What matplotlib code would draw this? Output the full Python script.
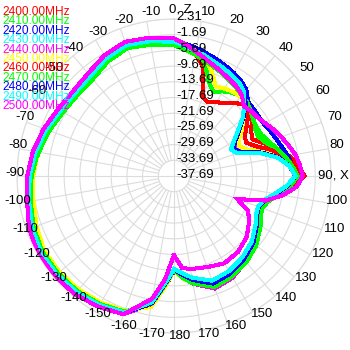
import numpy as np
import matplotlib
matplotlib.use("Agg")
import matplotlib.pyplot as plt

# angles in degrees (0 = Z at top, 90 = X at right, clockwise)
angles = [-180, -175, -170, -160, -150, -140, -130, -120, -110, -100, -90,
          -80, -70, -60, -50, -40, -30, -20, -10,
          0, 5, 10, 15, 20, 25, 30, 35, 40, 45, 50, 55, 60, 65, 70, 75, 80, 85,
          90, 95, 100, 105, 110, 115, 120, 130, 140, 150, 160, 170, 175, 180]

freqs = ["2400.00MHz", "2410.00MHz", "2420.00MHz", "2430.00MHz", "2440.00MHz",
         "2450.00MHz", "2460.00MHz", "2470.00MHz", "2480.00MHz", "2490.00MHz",
         "2500.00MHz"]
colors = ["#ff0000", "#00ff00", "#0000ff", "#00ffff", "#ff00ff", "#ffff00",
          "#ff0000", "#00ff00", "#0000ff", "#00ffff", "#ff00ff"]

# gain in dB, one list per frequency (same order as angles)
db_2400 = [-13.5, -9.0, -4.2, -0.6, 0.3, 0.9, 1.1, 1.2, 0.6, -0.4, -1.2,
           -2.6, -3.8, -5.0, -5.5, -5.4, -3.9, -2.9, -3.6,
           -4.3, -5.3, -6.0, -9.0, -16.3, -17.0, -16.0, -15.0, -13.5, -11.8, -12.5, -13.5, -15.0, -15.6, -13.3, -10.5, -8.0, -6.0,
           -4.4, -7.5, -10.5, -13.0, -14.2, -14.0, -13.0, -11.0, -9.6, -8.6, -8.0, -10.3, -11.8, -13.5]
db_2410 = [-13.6, -9.3, -4.4, -0.7, 0.2, 0.8, 1.0, 1.1, 0.5, -0.5, -1.3,
           -2.7, -3.9, -5.1, -5.6, -5.5, -4.0, -3.0, -3.7,
           -4.4, -5.4, -6.0, -7.5, -12.0, -14.0, -12.8, -11.8, -11.2, -11.3, -12.0, -12.8, -13.8, -14.0, -12.8, -10.8, -8.8, -7.0,
           -5.6, -8.0, -10.8, -13.2, -14.0, -13.5, -12.5, -10.7, -9.3, -8.3, -7.8, -10.0, -11.6, -13.6]
db_2420 = [-13.7, -9.6, -4.6, -0.7, 0.3, 0.8, 1.2, 1.4, 0.8, -0.2, -0.9,
           -1.8, -3.0, -4.2, -4.7, -4.4, -3.0, -2.0, -2.6,
           -3.2, -3.9, -4.6, -5.4, -6.0, -6.7, -7.3, -8.0, -9.0, -11.0, -11.2, -11.3, -11.2, -10.6, -10.0, -9.2, -8.2, -7.3,
           -6.8, -8.5, -11.0, -13.3, -14.3, -13.8, -12.8, -11.0, -9.7, -8.6, -8.1, -10.6, -12.2, -13.8]
db_2430 = [-13.8, -10.0, -4.8, -0.8, 0.2, 0.8, 1.2, 1.3, 0.7, -0.3, -1.0,
           -2.0, -3.2, -4.4, -4.9, -4.6, -3.2, -2.3, -3.0,
           -3.6, -4.6, -5.5, -6.3, -7.1, -7.7, -8.3, -8.9, -10.0, -11.8, -14.0, -16.5, -18.5, -19.5, -18.0, -13.5, -10.2, -8.0,
           -6.6, -8.6, -11.2, -13.5, -14.6, -14.2, -13.2, -11.4, -10.2, -9.2, -8.8, -11.0, -12.5, -13.9]
db_2440 = [-13.8, -9.8, -4.4, -0.3, 0.6, 1.3, 1.7, 1.8, 1.2, 0.1, -0.6,
           -1.5, -2.8, -4.0, -4.5, -4.2, -2.7, -1.8, -2.5,
           -3.2, -4.5, -5.6, -6.6, -7.4, -8.1, -8.8, -9.4, -10.3, -12.0, -14.2, -16.8, -19.0, -20.0, -18.5, -14.0, -10.5, -8.2,
           -6.8, -8.8, -11.4, -13.6, -14.6, -14.0, -12.8, -10.8, -9.2, -7.8, -7.2, -9.8, -11.8, -13.8]
db_2450 = [-13.6, -9.0, -3.8, -1.2, -0.4, 0.1, 0.4, 0.5, -0.4, -1.3, -1.8,
           -2.5, -3.5, -4.6, -5.1, -4.9, -3.5, -2.6, -3.3,
           -4.0, -5.0, -5.7, -6.8, -9.5, -12.5, -12.0, -11.5, -11.3, -11.8, -13.8, -16.3, -18.5, -19.5, -18.0, -13.2, -9.8, -7.6,
           -6.2, -8.2, -10.9, -13.2, -14.3, -13.8, -12.6, -10.7, -9.4, -8.3, -7.8, -10.0, -11.5, -13.6]
db_2460 = [-13.7, -9.5, -4.5, -0.9, 0.1, 0.6, 1.0, 1.1, 0.5, -0.5, -1.2,
           -2.3, -3.5, -4.7, -5.2, -5.0, -3.6, -2.6, -3.3,
           -4.0, -5.1, -6.1, -7.0, -7.8, -8.5, -9.2, -10.0, -10.8, -11.5, -13.0, -15.0, -16.8, -17.5, -15.5, -12.0, -9.2, -7.0,
           -5.5, -8.0, -10.8, -13.2, -14.3, -13.9, -12.9, -11.0, -9.6, -8.5, -8.0, -10.4, -12.0, -13.7]
db_2470 = [-13.7, -9.5, -4.6, -0.9, 0.0, 0.6, 0.9, 1.0, 0.4, -0.6, -1.4,
           -2.5, -3.7, -4.9, -5.4, -5.2, -3.8, -2.8, -3.5,
           -4.2, -5.3, -6.3, -7.3, -8.1, -8.8, -9.5, -10.2, -10.8, -11.2, -12.2, -13.0, -13.3, -13.0, -12.0, -10.5, -9.0, -7.5,
           -6.2, -8.0, -10.5, -12.8, -13.8, -13.3, -12.2, -10.3, -9.0, -8.1, -7.6, -9.9, -11.6, -13.7]
db_2480 = [-13.8, -9.8, -4.7, -0.6, 0.4, 1.0, 1.4, 1.5, 0.9, -0.1, -0.8,
           -1.8, -3.0, -4.2, -4.7, -4.3, -2.9, -2.0, -2.7,
           -3.4, -4.3, -5.1, -5.9, -6.6, -7.2, -7.8, -8.4, -9.5, -11.9, -14.6, -17.4, -19.6, -21.0, -19.8, -14.6, -10.6, -8.2,
           -6.7, -8.7, -11.3, -13.6, -14.7, -14.3, -13.2, -11.3, -10.0, -9.0, -8.5, -10.8, -12.4, -13.9]
db_2490 = [-13.9, -10.2, -5.0, -0.7, 0.3, 0.9, 1.3, 1.4, 0.8, -0.2, -0.9,
           -1.9, -3.1, -4.3, -4.8, -4.5, -3.1, -2.2, -2.8,
           -3.5, -4.5, -5.3, -6.1, -6.9, -7.5, -8.1, -8.7, -9.8, -12.3, -14.9, -17.9, -20.1, -21.7, -20.6, -15.0, -10.8, -8.2,
           -6.7, -8.9, -11.6, -13.9, -14.9, -14.6, -13.6, -11.8, -10.6, -9.7, -9.3, -11.4, -12.8, -14.0]
db_2500 = [-17.5, -11.2, -6.0, -0.2, 0.8, 1.6, 2.0, 2.2, 1.6, 0.3, -0.3,
           -1.2, -2.4, -3.6, -4.1, -3.6, -2.2, -1.3, -1.9,
           -2.6, -4.0, -5.5, -6.8, -7.8, -8.6, -9.3, -9.9, -10.8, -12.5, -12.0, -11.7, -10.8, -9.7, -8.6, -7.5, -6.3, -5.5,
           -4.9, -6.3, -9.5, -13.5, -20.5, -17.0, -15.5, -13.5, -12.4, -12.0, -13.0, -13.6, -14.2, -17.5]

series = [db_2400, db_2410, db_2420, db_2430, db_2440, db_2450,
          db_2460, db_2470, db_2480, db_2490, db_2500]

ring_values = [2.31, -1.69, -5.69, -9.69, -13.69, -17.69, -21.69, -25.69,
               -29.69, -33.69, -37.69]
angle_ticks = list(range(-170, 190, 10))

R_MIN, R_MAX = -37.69, 2.31
GRID = "#dcdcdc"
FONT = "Liberation Sans"

fig = plt.figure(figsize=(3.5, 3.5), dpi=100)
ax = fig.add_axes([17 / 350, 17 / 350, 314 / 350, 314 / 350], projection="polar")
ax.set_theta_zero_location("N")
ax.set_theta_direction(-1)
ax.set_ylim(R_MIN, R_MAX)
ax.grid(False)
ax.set_xticks([])
ax.set_yticks([])
ax.spines["polar"].set_color(GRID)
ax.spines["polar"].set_linewidth(0.8)

# rings
circle = np.linspace(0, 2 * np.pi, 361)
for r in ring_values[:-1]:
    ax.plot(circle, np.full_like(circle, r), color=GRID, lw=0.8, zorder=1)

# spokes start at the first ring, main axes go through the centre
for a in angle_ticks:
    r0 = R_MIN if a % 90 == 0 else ring_values[-2]
    ax.plot([np.deg2rad(a)] * 2, [r0, R_MAX], color=GRID, lw=0.8, zorder=1)

# traces
theta = np.deg2rad(angles)
for i, vals in enumerate(series):
    ax.plot(theta, vals, color=colors[i], lw=2.2, zorder=3 + i,
            solid_joinstyle="miter", antialiased=False)

# radial labels along the 0 axis
for r in ring_values:
    ax.annotate(f"{r:.2f}", xy=(0, r), xytext=(2, 1.5), textcoords="offset pixels",
                ha="left", va="center", fontsize=9.5, family=FONT, color="black",
                zorder=20)

# angle labels around the outside
W = 350
for a in angle_ticks:
    s, c = np.sin(np.deg2rad(a)), np.cos(np.deg2rad(a))
    py = 173 - 163 * c
    if a == 0:
        fig.text(180 / W, 1 - py / W, "0, Z", ha="center", va="center",
                 fontsize=9.5, family=FONT, color="black")
        continue
    if a == 90:
        fig.text(349 / W, 1 - 176 / W, "90, X", ha="right", va="center",
                 fontsize=9.5, family=FONT, color="black")
        continue
    px = min(180 + 165 * s, 337)
    fig.text(px / W, 1 - py / W, str(a), ha="center", va="center",
             fontsize=9.5, family=FONT, color="black")

# legend, top left
for i, name in enumerate(freqs):
    fig.text(2 / W, 1 - (12 + 9.4 * i) / W, name, ha="left", va="center",
             fontsize=8.6, family=FONT, color=colors[i], zorder=30)

fig.savefig("out.png", dpi=100)
